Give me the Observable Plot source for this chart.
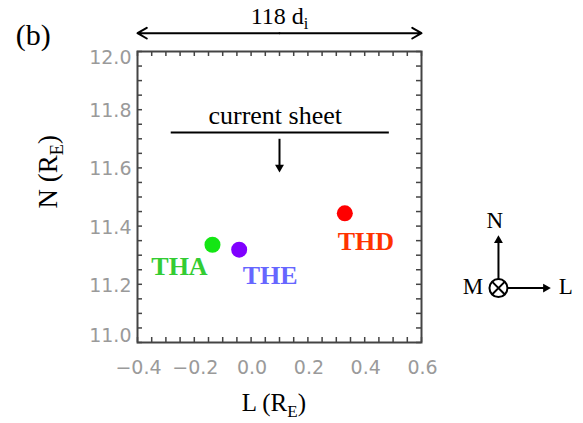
<!DOCTYPE html>
<html>
<head>
<meta charset="utf-8">
<script src="https://cdn.jsdelivr.net/npm/d3@7"></script>
<script src="https://cdn.jsdelivr.net/npm/@observablehq/plot@0.6"></script>
<style>
  html, body { margin: 0; padding: 0; background: #fff; }
  g[aria-label="tick label"] text { letter-spacing: 2px; }
</style>
</head>
<body>
<div id="chart"></div>
<script>
// THEMIS probe positions projected on the L–N plane (Earth radii)
const probes = ["THA", "THE", "THD"];
const posL = [-0.136, -0.042, 0.330];
const posN = [11.336, 11.319, 11.444];

// Axis tick values
const xTicks = [-0.4, -0.2, 0.0, 0.2, 0.4, 0.6];
const yTicks = [11.0, 11.2, 11.4, 11.6, 11.8, 12.0];

// Styling
const dotColor = {THA: "#14e614", THE: "#8000ff", THD: "#ff0000"};
const labelColor = {THA: "#33cc33", THE: "#6666ff", THD: "#ff3300"};
const labelOffset = {THA: [-33, 30], THE: [31, 34], THD: [21, 37]};

const W = 583, H = 423;
const mt = 51, mr = 162, mb = 81, ml = 137;
const iw = W - ml - mr, ih = H - mt - mb;
const tickLen = 5;
const frameColor = "#444";
const tickLabelColor = "#9a9a9a";
const serif = "Liberation Serif, Times New Roman, serif";
const sans = "DejaVu Sans, sans-serif";

const xMinor = d3.ticks(-0.4, 0.6, 20);
const yMinor = d3.ticks(11, 12, 20);
const fmt = d3.format(".1f");

const idx = probes.map((_, i) => i);

const labelMarks = probes.map((p, i) => Plot.text([i], {
  x: j => posL[j], y: j => posN[j], text: j => probes[j],
  dx: labelOffset[p][0], dy: labelOffset[p][1],
  lineAnchor: "bottom", fill: labelColor[p],
  fontFamily: serif, fontWeight: "bold", fontSize: 26
}));

const yMid = yTicks.slice(1, -1);
const yLabel = (data, dy) => Plot.text(data, {y: d => d, text: d => fmt(d), frameAnchor: "left",
  dx: -6, dy, textAnchor: "end", lineAnchor: "middle", fill: tickLabelColor,
  fontFamily: sans, fontSize: 19, ariaLabel: "tick label"});

const chart = Plot.plot({
  width: W, height: H,
  marginTop: mt, marginRight: mr, marginBottom: mb, marginLeft: ml,
  x: {domain: [-0.4, 0.6], axis: null},
  y: {domain: [11, 12], axis: null},
  color: {type: "identity"},
  style: {background: "white", overflow: "visible"},
  marks: [
    // inward ticks on all four sides
    Plot.tickX(xMinor, {x: d => d, insetTop: ih - tickLen, stroke: frameColor, strokeWidth: 1.5}),
    Plot.tickX(xMinor, {x: d => d, insetBottom: ih - tickLen, stroke: frameColor, strokeWidth: 1.5}),
    Plot.tickY(yMinor, {y: d => d, insetRight: iw - tickLen, stroke: frameColor, strokeWidth: 1.5}),
    Plot.tickY(yMinor, {y: d => d, insetLeft: iw - tickLen, stroke: frameColor, strokeWidth: 1.5}),
    Plot.frame({stroke: frameColor, strokeWidth: 2}),

    // tick labels
    Plot.text(xTicks, {x: d => d, text: d => fmt(d), frameAnchor: "bottom", dy: 25, dx: 1,
      lineAnchor: "middle", fill: tickLabelColor, fontFamily: sans, fontSize: 19, ariaLabel: "tick label"}),
    yLabel(yMid, 1.5),
    yLabel([yTicks[yTicks.length - 1]], 6.5),
    yLabel([yTicks[0]], -7),

    // axis titles
    Plot.text([{L: 0.08, N: 10.764, t: "L (R_E)"}], {x: "L", y: "N", text: "t",
      lineAnchor: "bottom", fontFamily: serif, fontSize: 25, fill: "black"}),
    Plot.text([{L: -0.715, N: 11.587, t: "N (R_E)"}], {x: "L", y: "N", text: "t", rotate: -90,
      lineAnchor: "middle", fontFamily: serif, fontSize: 27, fill: "black"}),

    // panel tag and scale bar above the frame
    Plot.text([{L: -0.767, N: 12.023, t: "(b)"}], {x: "L", y: "N", text: "t",
      lineAnchor: "bottom", fontFamily: serif, fontSize: 30, fill: "black"}),
    Plot.arrow([{a: 0.1, b: -0.4}, {a: 0.1, b: 0.6}], {x1: "a", x2: "b", y1: 12.063, y2: 12.063,
      stroke: "black", strokeWidth: 2, headLength: 8, headAngle: 60}),
    Plot.text([{L: 0.1, N: 12.095, t: "118 d_i"}], {x: "L", y: "N", text: "t",
      lineAnchor: "bottom", fontFamily: serif, fontSize: 24, fill: "black"}),

    // current sheet marker
    Plot.text([{L: 0.085, N: 11.751, t: "current sheet"}], {x: "L", y: "N", text: "t",
      lineAnchor: "bottom", fontFamily: serif, fontSize: 26, fill: "black"}),
    Plot.link([{a: -0.283, b: 0.485}], {x1: "a", x2: "b", y1: 11.722, y2: 11.722,
      stroke: "black", strokeWidth: 2}),
    Plot.link([0], {x1: 0.1, x2: 0.1, y1: 11.700, y2: 11.600, stroke: "black", strokeWidth: 2}),
    Plot.dot([0], {x: 0.1, y: 11.585, dy: -5, symbol: "triangle", rotate: 180, r: 3.3,
      fill: "black", stroke: "none"}),

    // probes
    Plot.dot(idx, {x: i => posL[i], y: i => posN[i], r: 8, fill: i => dotColor[probes[i]], stroke: "none"}),
    ...labelMarks,

    // LMN coordinate glyph
    Plot.dot([0], {x: 0.871, y: 11.187, r: 9, stroke: "black", strokeWidth: 2, fill: "none"}),
    Plot.dot([0], {x: 0.871, y: 11.187, r: 5.9, symbol: "times", stroke: "black", strokeWidth: 2}),
    Plot.link([0], {x1: 0.871, x2: 0.871, y1: 11.218, y2: 11.355, stroke: "black", strokeWidth: 2}),
    Plot.dot([0], {x: 0.871, y: 11.368, dy: 5, symbol: "triangle", rotate: 0, r: 3.3,
      fill: "black", stroke: "none"}),
    Plot.link([0], {x1: 0.904, x2: 1.040, y1: 11.187, y2: 11.187, stroke: "black", strokeWidth: 2}),
    Plot.dot([0], {x: 1.055, y: 11.187, dx: -5, symbol: "triangle", rotate: 90, r: 3.3,
      fill: "black", stroke: "none"}),
    Plot.text([{L: 0.858, N: 11.395, t: "N"}, {L: 0.781, N: 11.168, t: "M"}, {L: 1.108, N: 11.168, t: "L"}],
      {x: "L", y: "N", text: "t", lineAnchor: "bottom", fontFamily: serif, fontSize: 23, fill: "black"})
  ]
});

document.getElementById("chart").appendChild(chart);

// Turn "_X" into a subscript tspan
d3.select(chart).selectAll("text").each(function () {
  const m = this.textContent.match(/^(.*)_(\w)(.*)$/);
  if (!m) return;
  const fs = parseFloat(getComputedStyle(this).fontSize) || 20;
  const shift = 0.22 * fs;
  const el = d3.select(this);
  el.text(m[1]);
  el.append("tspan").attr("dy", shift).attr("font-size", 0.68 * fs).text(m[2]);
  if (m[3]) el.append("tspan").attr("dy", -shift).text(m[3]);
});
</script>
</body>
</html>
